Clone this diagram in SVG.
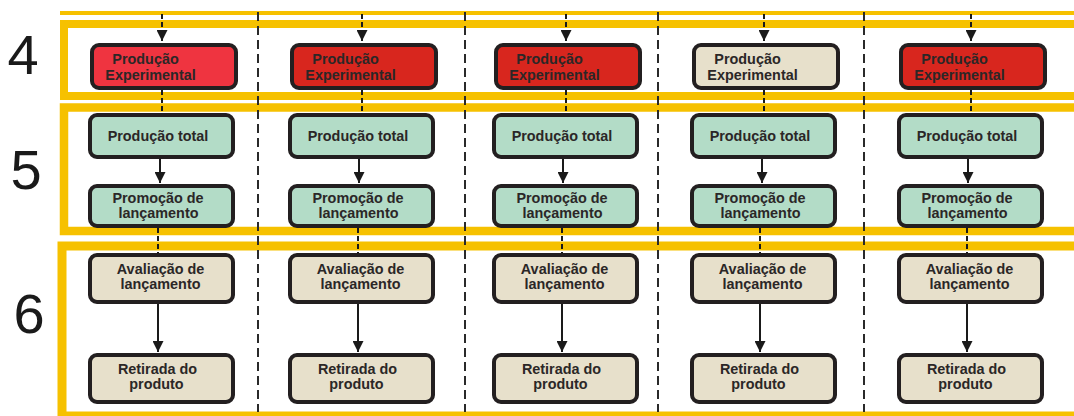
<svg xmlns="http://www.w3.org/2000/svg" width="1074" height="416" viewBox="0 0 1074 416">
<defs>
<style>
.band{fill:none;stroke:#f6c100}
.div{stroke:#2a2a2a;stroke-width:2;stroke-dasharray:9 5;fill:none}
.con{stroke:#1a1a1a;stroke-width:2;fill:none}
.dash{stroke:#1a1a1a;stroke-width:2;stroke-dasharray:5 3;fill:none}
.box{stroke:#231f20;stroke-width:4}
.red1{fill:#ef3440}
.red{fill:#d8261e}
.beige{fill:#e7e0cb}
.green{fill:#b3dcc7}
.t{font-family:"Liberation Sans",Arial,sans-serif;font-weight:bold;font-size:14.4px;fill:#2b2727;text-anchor:middle}
.num{font-family:"Liberation Sans",Arial,sans-serif;font-size:56px;fill:#1a1a1a;text-anchor:middle}
</style>
<marker id="ah" markerUnits="userSpaceOnUse" markerWidth="12" markerHeight="11" refX="11" refY="5.5" orient="auto">
<path d="M0,0 L11,5.5 L0,11 z" fill="#1a1a1a"/>
</marker>
</defs>
<rect width="1074" height="416" fill="#fff"/>
<g id="frames">
<line x1="60" y1="13" x2="1074" y2="13" stroke="#f6c100" stroke-width="4"/>
<rect class="band" x="64" y="24" width="1100" height="72" stroke-width="8"/>
<rect class="band" x="64" y="107.5" width="1100" height="123.5" stroke-width="8.5"/>
<rect class="band" x="62" y="246" width="1100" height="170" stroke-width="9"/>
</g>
<g id="labels">
<text class="num" x="23" y="74">4</text>
<text class="num" x="26" y="189" font-size="54">5</text>
<text class="num" x="29" y="333">6</text>
</g>
<g id="dividers">
<line class="div" x1="258" y1="12" x2="258" y2="412"/>
<line class="div" x1="465" y1="12" x2="465" y2="412"/>
<line class="div" x1="658" y1="12" x2="658" y2="412"/>
<line class="div" x1="864" y1="12" x2="864" y2="412"/>
</g>
<g id="connectors">
<line class="dash" x1="162" y1="14" x2="162" y2="41" marker-end="url(#ah)"/>
<line class="dash" x1="362" y1="14" x2="362" y2="41" marker-end="url(#ah)"/>
<line class="dash" x1="566" y1="14" x2="566" y2="41" marker-end="url(#ah)"/>
<line class="dash" x1="764" y1="14" x2="764" y2="41" marker-end="url(#ah)"/>
<line class="dash" x1="971" y1="14" x2="971" y2="41" marker-end="url(#ah)"/>
<line class="dash" x1="162" y1="90" x2="162" y2="114"/>
<line class="dash" x1="362" y1="90" x2="362" y2="114"/>
<line class="dash" x1="566" y1="90" x2="566" y2="114"/>
<line class="dash" x1="764" y1="90" x2="764" y2="114"/>
<line class="dash" x1="971" y1="90" x2="971" y2="114"/>
<line class="con" x1="160" y1="159" x2="160" y2="183" marker-end="url(#ah)"/>
<line class="con" x1="359" y1="159" x2="359" y2="183" marker-end="url(#ah)"/>
<line class="con" x1="563" y1="159" x2="563" y2="183" marker-end="url(#ah)"/>
<line class="con" x1="762" y1="159" x2="762" y2="183" marker-end="url(#ah)"/>
<line class="con" x1="968" y1="159" x2="968" y2="183" marker-end="url(#ah)"/>
<line class="dash" x1="158" y1="228" x2="158" y2="254"/>
<line class="dash" x1="358" y1="228" x2="358" y2="254"/>
<line class="dash" x1="562" y1="228" x2="562" y2="254"/>
<line class="dash" x1="760" y1="228" x2="760" y2="254"/>
<line class="dash" x1="967" y1="228" x2="967" y2="254"/>
<line class="con" x1="158" y1="303" x2="158" y2="352" marker-end="url(#ah)"/>
<line class="con" x1="358" y1="303" x2="358" y2="352" marker-end="url(#ah)"/>
<line class="con" x1="562" y1="303" x2="562" y2="352" marker-end="url(#ah)"/>
<line class="con" x1="760" y1="303" x2="760" y2="352" marker-end="url(#ah)"/>
<line class="con" x1="967" y1="303" x2="967" y2="352" marker-end="url(#ah)"/>
</g>
<g id="pe1"><rect class="box red1" x="92" y="45" width="144" height="43" rx="7"/><text class="t"><tspan x="145.5" y="64">Produção</tspan><tspan x="150.5" y="80">Experimental</tspan></text></g>
<g id="pe2"><rect class="box red" x="292" y="45" width="144" height="43" rx="7"/><text class="t"><tspan x="345.5" y="64">Produção</tspan><tspan x="350.5" y="80">Experimental</tspan></text></g>
<g id="pe3"><rect class="box red" x="496" y="45" width="144" height="43" rx="7"/><text class="t"><tspan x="549.5" y="64">Produção</tspan><tspan x="554.5" y="80">Experimental</tspan></text></g>
<g id="pe4"><rect class="box beige" x="694" y="45" width="144" height="43" rx="7"/><text class="t"><tspan x="747.5" y="64">Produção</tspan><tspan x="752.5" y="80">Experimental</tspan></text></g>
<g id="pe5"><rect class="box red" x="901" y="45" width="144" height="43" rx="7"/><text class="t"><tspan x="954.5" y="64">Produção</tspan><tspan x="959.5" y="80">Experimental</tspan></text></g>
<g id="pt1"><rect class="box green" x="90" y="115" width="143" height="42" rx="7"/><text class="t" x="158" y="141">Produção total</text></g>
<g id="pt2"><rect class="box green" x="290" y="115" width="143" height="42" rx="7"/><text class="t" x="358" y="141">Produção total</text></g>
<g id="pt3"><rect class="box green" x="494" y="115" width="143" height="42" rx="7"/><text class="t" x="562" y="141">Produção total</text></g>
<g id="pt4"><rect class="box green" x="692" y="115" width="143" height="42" rx="7"/><text class="t" x="760" y="141">Produção total</text></g>
<g id="pt5"><rect class="box green" x="899" y="115" width="143" height="42" rx="7"/><text class="t" x="967" y="141">Produção total</text></g>
<g id="pl1"><rect class="box green" x="90" y="186" width="143" height="40" rx="7"/><text class="t"><tspan x="158" y="203">Promoção de</tspan><tspan x="158.5" y="218">lançamento</tspan></text></g>
<g id="pl2"><rect class="box green" x="290" y="186" width="143" height="40" rx="7"/><text class="t"><tspan x="358" y="203">Promoção de</tspan><tspan x="358.5" y="218">lançamento</tspan></text></g>
<g id="pl3"><rect class="box green" x="494" y="186" width="143" height="40" rx="7"/><text class="t"><tspan x="562" y="203">Promoção de</tspan><tspan x="562.5" y="218">lançamento</tspan></text></g>
<g id="pl4"><rect class="box green" x="692" y="186" width="143" height="40" rx="7"/><text class="t"><tspan x="760" y="203">Promoção de</tspan><tspan x="760.5" y="218">lançamento</tspan></text></g>
<g id="pl5"><rect class="box green" x="899" y="186" width="143" height="40" rx="7"/><text class="t"><tspan x="967" y="203">Promoção de</tspan><tspan x="967.5" y="218">lançamento</tspan></text></g>
<g id="al1"><rect class="box beige" x="90" y="255" width="143" height="47" rx="7"/><text class="t"><tspan x="160.5" y="274">Avaliação de</tspan><tspan x="160.5" y="289">lançamento</tspan></text></g>
<g id="al2"><rect class="box beige" x="290" y="255" width="143" height="47" rx="7"/><text class="t"><tspan x="360.5" y="274">Avaliação de</tspan><tspan x="360.5" y="289">lançamento</tspan></text></g>
<g id="al3"><rect class="box beige" x="494" y="255" width="143" height="47" rx="7"/><text class="t"><tspan x="564.5" y="274">Avaliação de</tspan><tspan x="564.5" y="289">lançamento</tspan></text></g>
<g id="al4"><rect class="box beige" x="692" y="255" width="143" height="47" rx="7"/><text class="t"><tspan x="762.5" y="274">Avaliação de</tspan><tspan x="762.5" y="289">lançamento</tspan></text></g>
<g id="al5"><rect class="box beige" x="899" y="255" width="143" height="47" rx="7"/><text class="t"><tspan x="969.5" y="274">Avaliação de</tspan><tspan x="969.5" y="289">lançamento</tspan></text></g>
<g id="rp1"><rect class="box beige" x="90" y="355" width="143" height="47" rx="7"/><text class="t"><tspan x="157.5" y="374">Retirada do</tspan><tspan x="156.5" y="389">produto</tspan></text></g>
<g id="rp2"><rect class="box beige" x="290" y="355" width="143" height="47" rx="7"/><text class="t"><tspan x="357.5" y="374">Retirada do</tspan><tspan x="356.5" y="389">produto</tspan></text></g>
<g id="rp3"><rect class="box beige" x="494" y="355" width="143" height="47" rx="7"/><text class="t"><tspan x="561.5" y="374">Retirada do</tspan><tspan x="560.5" y="389">produto</tspan></text></g>
<g id="rp4"><rect class="box beige" x="692" y="355" width="143" height="47" rx="7"/><text class="t"><tspan x="759.5" y="374">Retirada do</tspan><tspan x="758.5" y="389">produto</tspan></text></g>
<g id="rp5"><rect class="box beige" x="899" y="355" width="143" height="47" rx="7"/><text class="t"><tspan x="966.5" y="374">Retirada do</tspan><tspan x="965.5" y="389">produto</tspan></text></g>
</svg>
